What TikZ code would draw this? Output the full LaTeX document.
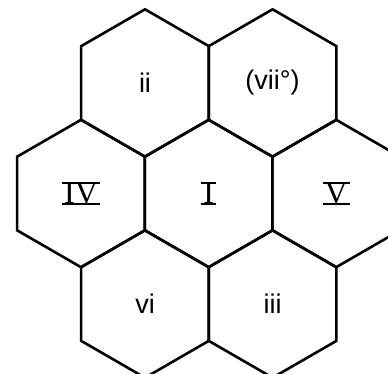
\documentclass[tikz,border=0pt]{standalone}
\usepackage{fontspec}
\setmainfont{Liberation Sans}
\newfontfamily\romfont{Liberation Serif}
\usetikzlibrary{shapes.geometric}
% roman numeral with a bar above and below
\newcommand{\barnum}[1]{{\romfont\fontsize{32}{32}\selectfont
  \setbox0=\hbox{#1}%
  \rlap{\hskip-2pt\rule[-1.4pt]{\dimexpr\wd0+4pt\relax}{2.6pt}}%
  \rlap{\hskip-2pt\rule[\dimexpr\ht0-1.2pt\relax]{\dimexpr\wd0+4pt\relax}{2.6pt}}%
  \box0}}
\begin{document}
\begin{tikzpicture}[x=1pt,y=-1pt,
	hexcell/.style={draw,line width=2.6pt,regular polygon,regular polygon sides=6,
		shape border rotate=30,minimum size=147.4pt,inner sep=0pt,
		font=\fontsize{27}{27}\selectfont}]
\useasboundingbox (0,0) rectangle (388,373);
\clip (0,0) rectangle (388,373);
\foreach \x / \y / \name / \txt in {145/83/ii/ii, 272.6/83/vii/{(vii°)},
	81/193.5/IV/{\barnum{IV}}, 208.6/193.5/I/{\barnum{I}}, 336.2/193.5/V/{\barnum{V}},
	145/304/vi/vi, 272.6/304/iii/iii}
{
	\node[hexcell] (\name) at (\x,\y) {\txt};
}
\end{tikzpicture}
\end{document}
